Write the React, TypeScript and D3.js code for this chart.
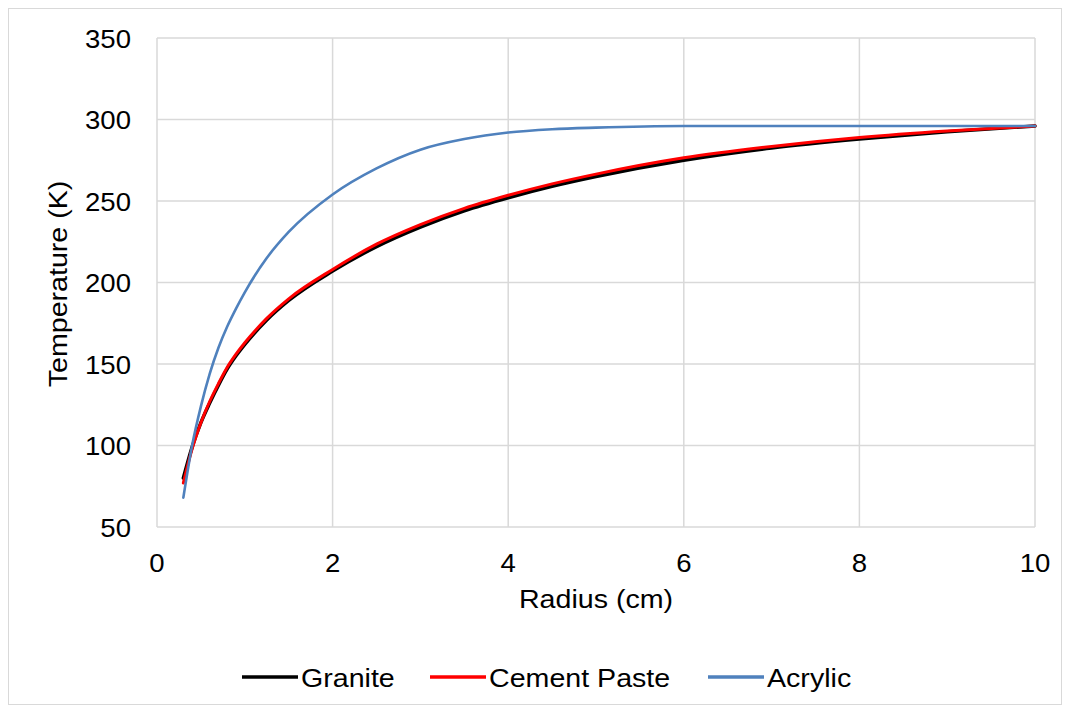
import React from 'react'
import * as d3 from 'd3'

// radius (cm) sample points
const radius = [0.3, 0.4, 0.5, 0.6, 0.7, 0.8, 0.9, 1.0, 1.25, 1.5, 2, 2.5, 3, 3.5, 4, 4.5, 5, 6, 7, 8, 9, 10]

// temperatures (K)
const granite = [80, 99, 114, 126, 137, 147, 155, 162, 177, 189, 207, 222, 234, 244, 252, 259, 265, 275, 282.5, 288, 292.5, 296]
const cementPaste = [77, 98, 114, 127, 138, 148, 156, 163, 178, 190, 208, 223.5, 235.5, 245.5, 253.5, 260.5, 266.5, 276.5, 283.5, 289, 293, 296]
const acrylic = [68, 100, 124, 144, 160, 173, 184, 194, 215, 231, 254, 270, 281.5, 288, 292, 294, 295, 296, 296, 296, 296, 296]

const xTicks = [0, 2, 4, 6, 8, 10]
const yTicks = [50, 100, 150, 200, 250, 300, 350]

const series = [
  { name: 'Granite', values: granite, color: '#000000', width: 3.5 },
  { name: 'Cement Paste', values: cementPaste, color: '#ff0000', width: 3 },
  { name: 'Acrylic', values: acrylic, color: '#4f81bd', width: 2.6 },
]

const font = '"Liberation Sans", Arial, sans-serif'

export default function App() {
  const x = d3.scaleLinear().domain([0, 10]).range([157, 1035])
  const y = d3.scaleLinear().domain([50, 350]).range([527, 38])

  const line = d3.line<number>()
    .x((d, i) => x(radius[i]))
    .y(d => y(d))
    .curve(d3.curveMonotoneX)

  const legendX = [242, 430, 708]

  return (
    <svg width={1069} height={713}
      style={{ position: 'absolute', left: 0, top: 0, background: '#fff' }}
      fontFamily={font} fontSize={26}>
      <rect x={8.5} y={8.5} width={1053} height={696} fill="#fff" stroke="#d9d9d9" strokeWidth={1} />

      {/* grid */}
      {yTicks.map(t => (
        <line key={'gy' + t} x1={x(0)} x2={x(10)} y1={y(t)} y2={y(t)} stroke="#d9d9d9" strokeWidth={1.5} />
      ))}
      {xTicks.map(t => (
        <line key={'gx' + t} x1={x(t)} x2={x(t)} y1={y(50)} y2={y(350)} stroke="#d9d9d9" strokeWidth={1.5} />
      ))}

      {/* tick labels */}
      {yTicks.map(t => (
        <text key={'ty' + t} transform={`translate(131, ${y(t) + 9.5}) scale(1.06, 1)`} textAnchor="end" fill="#000">{t}</text>
      ))}
      {xTicks.map(t => (
        <text key={'tx' + t} transform={`translate(${x(t)}, 572) scale(1.06, 1)`} textAnchor="middle" fill="#000">{t}</text>
      ))}

      <text transform="translate(596, 608) scale(1.1, 1)" textAnchor="middle">Radius (cm)</text>
      <text transform="translate(67, 284) rotate(-90) scale(1.1, 1)" textAnchor="middle">Temperature (K)</text>

      {/* lines */}
      {series.map(s => (
        <path key={s.name} d={line(s.values) || ''} fill="none" stroke={s.color} strokeWidth={s.width} strokeLinecap="round" />
      ))}

      {/* legend */}
      {series.map((s, i) => (
        <g key={'lg' + s.name}>
          <line x1={legendX[i]} x2={legendX[i] + 56} y1={677} y2={677} stroke={s.color} strokeWidth={3.5} />
          <text transform={`translate(${legendX[i] + 59}, 686.5) scale(1.1, 1)`}>{s.name}</text>
        </g>
      ))}
    </svg>
  )
}
